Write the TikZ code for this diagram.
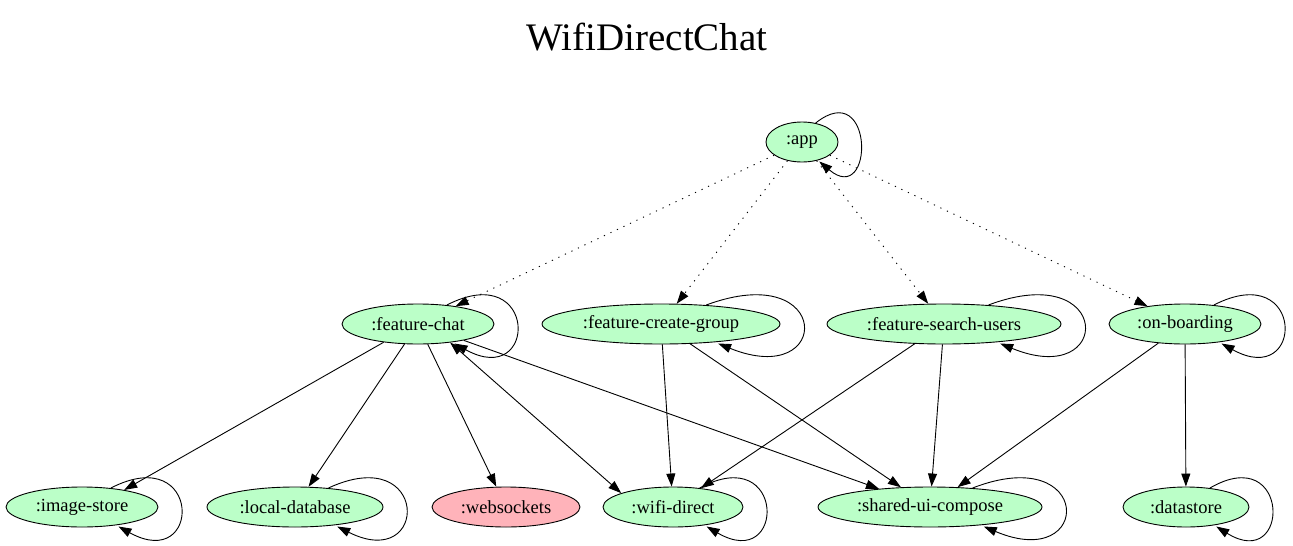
\documentclass[tikz,border=0pt]{standalone}
\usepackage{fontspec}
\setmainfont{Liberation Serif}
\usetikzlibrary{arrows.meta,calc,shapes.geometric}
\definecolor{modgreen}{RGB}{187,255,200}
\definecolor{modpink}{RGB}{255,179,186}
\newcommand\sLoop[2]{%
  \pgfmathsetmacro\sLoopX{(0.9*#2+22)/0.75}%
  \draw[edge] ($(#1.center)+(0.38*#2,-19)$) .. controls ($(#1.center)+(\sLoopX,-66)$) and ($(#1.center)+(\sLoopX,66)$) .. ($(#1.center)+(0.48*#2,19.5)$);}
\begin{document}
\begin{tikzpicture}[x=1pt,y=-1pt,
  mod/.style={ellipse, draw, line width=0.9pt, fill=modgreen, inner sep=0pt,
    minimum height=40pt, font=\fontsize{18.5}{22}\selectfont},
  tip/.style={Triangle[length=13pt,width=9pt]},
  edge/.style={draw, line width=0.9pt, -{Triangle[length=13pt,width=9pt]}},
  dep/.style={edge, dash pattern=on 1.2pt off 6pt}]
\useasboundingbox (0,0) rectangle (1293,546);
\node[font=\fontsize{39}{44}\selectfont] (title) at (647,37) {WifiDirectChat};

\node[mod, minimum width=72pt]  (app) at (802,142) {:app};
\node[mod, minimum width=152pt] (fc)  at (418,324) {:feature-chat};
\node[mod, minimum width=238pt] (cg)  at (661,324) {:feature-create-group};
\node[mod, minimum width=234pt] (su)  at (944,324) {:feature-search-users};
\node[mod, minimum width=152pt] (ob)  at (1185,324) {:on-boarding};
\node[mod, minimum width=152pt] (is)  at (82,507) {:image-store};
\node[mod, minimum width=176pt] (ld)  at (295,507) {:local-database};
\node[mod, minimum width=148pt, fill=modpink] (ws) at (506,507) {:websockets};
\node[mod, minimum width=140pt] (wd)  at (673,507) {:wifi-direct};
\node[mod, minimum width=224pt] (sh)  at (930,507) {:shared-ui-compose};
\node[mod, minimum width=126pt] (ds)  at (1186,507) {:datastore};

% dotted dependencies from app
\draw[dep] (app) -- (fc);
\draw[dep] (app) -- (cg);
\draw[dep] (app) -- (su);
\draw[dep] (app) -- (ob);

% solid dependencies
\draw[edge] (fc.-152) -- (is.22);
\draw[edge] (fc) -- (ld);
\draw[edge] (fc) -- (ws);
\draw[edge, {Triangle[length=13pt,width=9pt]}-{Triangle[length=13pt,width=9pt]}] (fc.-30) -- (wd.165);
\draw[edge] (fc) -- (sh);
\draw[edge] (cg) -- (wd);
\draw[edge] (cg) -- (sh);
\draw[edge] (su) -- (wd);
\draw[edge] (su) -- (sh);
\draw[edge] (ob) -- (sh);
\draw[edge] (ob) -- (ds);

% self loops
\sLoop{app}{36}
\sLoop{fc}{76}
\sLoop{cg}{119}
\sLoop{su}{117}
\sLoop{ob}{76}
\sLoop{is}{76}
\sLoop{ld}{88}
\sLoop{wd}{70}
\sLoop{sh}{112}
\sLoop{ds}{63}
\end{tikzpicture}
\end{document}
